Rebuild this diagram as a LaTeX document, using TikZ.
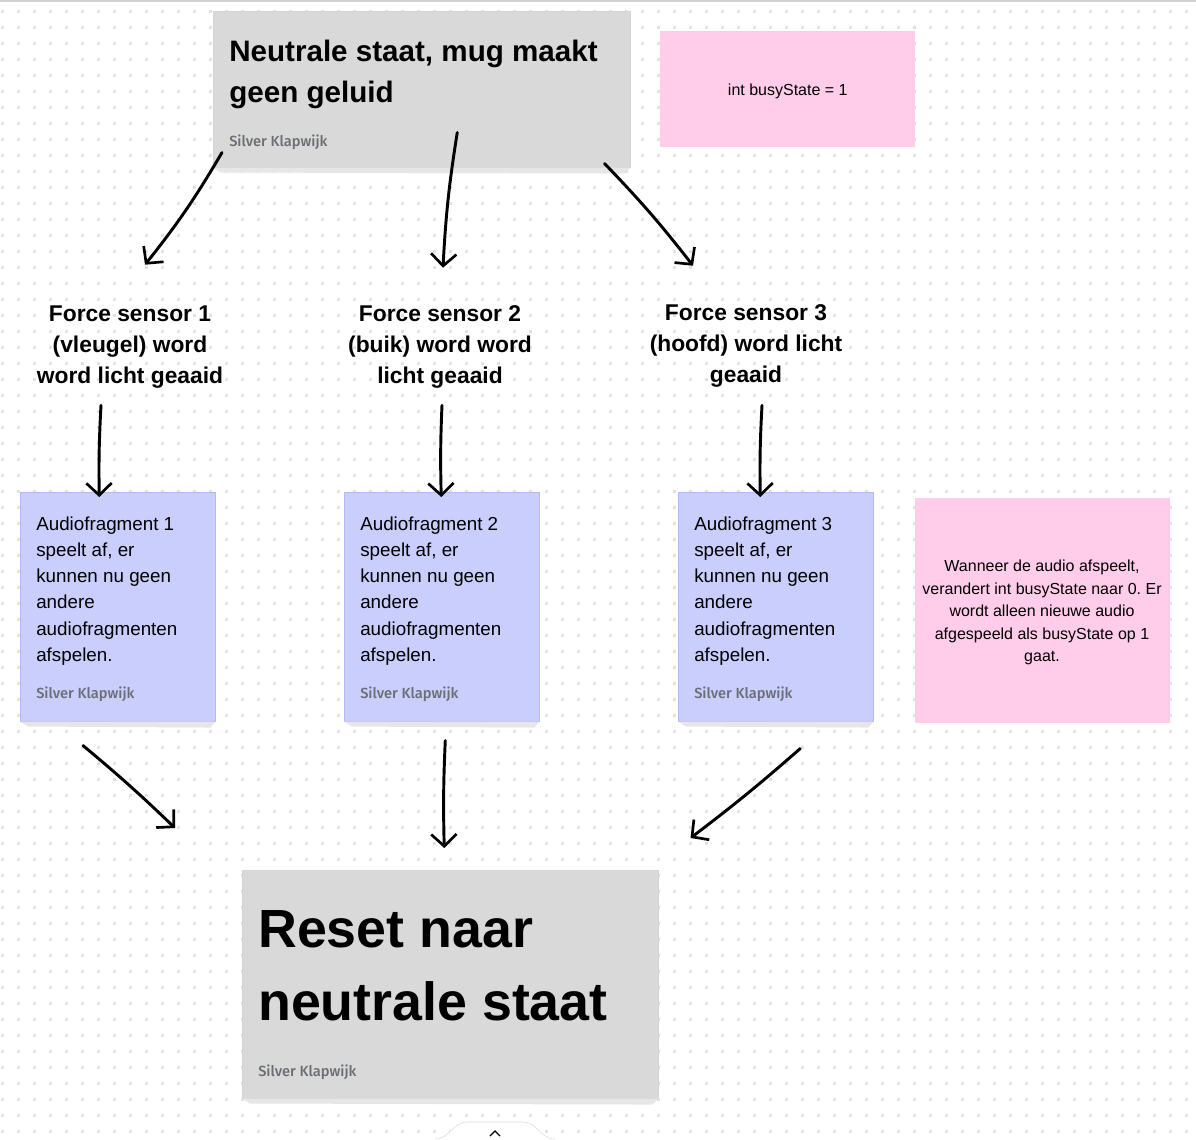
\documentclass[tikz,border=0pt]{standalone}
\usepackage{fontspec}
\setmainfont{Liberation Sans}
\newfontfamily\auteurfont{Fira Sans}[UprightFont={* Medium}]
\usetikzlibrary{arrows.meta,positioning}
\frenchspacing
\definecolor{kaartgrijs}{HTML}{D9D9D9}
\definecolor{kaartblauw}{HTML}{C9CEFD}
\definecolor{randblauw}{HTML}{B4BBF2}
\definecolor{kaartroze}{HTML}{FFCCE9}
\definecolor{stipgrijs}{HTML}{DFE1E6}
\definecolor{auteurgrijs}{HTML}{6B6E74}
\definecolor{schaduw}{HTML}{E6E6E6}

\begin{document}
\begin{tikzpicture}[
    x=0.75pt, y=-0.75pt,
    kaart/.style={rectangle, anchor=north west, inner sep=0pt},
    grijs/.style={kaart, fill=kaartgrijs, draw=black!17},
    blauw/.style={kaart, fill=kaartblauw, draw=randblauw},
    roze/.style={kaart, fill=kaartroze},
    kop/.style={anchor=west, align=left, inner sep=0pt, font=\bfseries\fontsize{22.2}{30.75}\selectfont},
    groot/.style={anchor=west, align=left, inner sep=0pt, font=\bfseries\fontsize{40.3}{55}\selectfont},
    sensor/.style={align=center, inner sep=0pt, minimum width=150pt, minimum height=72pt, font=\bfseries\fontsize{17.1}{23.2}\selectfont},
    tekst/.style={anchor=west, align=left, inner sep=0pt, font=\fontsize{14.1}{19.65}\selectfont},
    notitie/.style={align=center, inner sep=0pt, font=\fontsize{12}{16.9}\selectfont},
    auteur/.style={anchor=west, inner sep=0pt, text=auteurgrijs, font=\auteurfont\fontsize{11}{13}\selectfont},
    pijl/.style={-{Straight Barb[length=9pt, width=19pt, line width=2pt]}, line width=2.2pt, line cap=round, line join=round}
]
\useasboundingbox (0,0) rectangle (1196,1139);

% stippenraster
\foreach \i in {0,...,74}
  \foreach \j in {0,...,70}
    \fill[stipgrijs] (0.5+16*\i,9.5+16*\j) rectangle ++(3,3);
\draw[black!18, line width=1pt] (0,1) -- (1196,1);

% kaarten
\node[grijs, minimum width=312.75pt, minimum height=117pt] (neutraal) at (213,11) {};
\fill[schaduw] (neutraal.south west) -- (neutraal.south east) -- ++(-6,6) -- ([shift={(8,5)}]neutraal.south west) -- cycle;
\node[kop] (neutraaltxt) at (229,74) {Neutrale staat, mug maakt\\geen geluid};
\node[auteur] (auteur0) at (229,142) {Silver Klapwijk};

\node[roze, minimum width=191.25pt, minimum height=87pt] (busy) at (660,31) {};
\node[notitie] (busytxt) at ([yshift=-1.5pt]busy.center) {int busyState = 1};

% force sensors
\node[sensor] (fs1) at (130,347) {Force sensor 1\\(vleugel) word\\word licht geaaid};
\node[sensor] (fs2) at (440,347) {Force sensor 2\\(buik) word word\\licht geaaid};
\node[sensor] (fs3) at (746,346) {Force sensor 3\\(hoofd) word licht\\geaaid};

% audiofragmenten
\foreach \n/\x in {1/20, 2/344, 3/678} {
  \node[blauw, minimum width=146.25pt, minimum height=171.75pt] (af\n) at (\x,492) {};
  \fill[schaduw] (af\n.south west) -- (af\n.south east) -- ++(-5,6) -- ([shift={(8,5)}]af\n.south west) -- cycle;
  \node[tekst] (af\n txt) at (\x+16,591) {Audiofragment \n\\speelt af, er\\kunnen nu geen\\andere\\audiofragmenten\\afspelen.};
  \node[auteur] (auteur\n) at (\x+16,694) {Silver Klapwijk};
}

\node[roze, minimum width=191.25pt, minimum height=168.75pt] (uitleg) at (915,498) {};
\node[notitie] (uitlegtxt) at (1042,612.5) {Wanneer de audio afspeelt,\\verandert int busyState naar 0. Er\\wordt alleen nieuwe audio\\afgespeeld als busyState op 1\\gaat.};

% reset
\node[grijs, minimum width=312pt, minimum height=171pt] (reset) at (242,870) {};
\fill[schaduw] (reset.south west) -- (reset.south east) -- ++(-6,6) -- ([shift={(8,5)}]reset.south west) -- cycle;
\node[groot] (resettxt) at (258,966) {Reset naar\\neutrale staat};
\node[auteur] (auteur4) at (258,1072) {Silver Klapwijk};

% pijlen
\draw[pijl] ([shift={(9,-15)}]neutraal.south west) to[bend left=4] ([shift={(15,-34)}]fs1.north);
\draw[pijl] ([shift={(35.5,-35)}]neutraal.south) to[bend right=3] ([shift={(3,-31)}]fs2.north);
\draw[pijl] ([shift={(-26,-4)}]neutraal.south east) to[bend left=3] ([shift={(-53,-32)}]fs3.north);
\draw[pijl] ([shift={(-29,10)}]fs1.south) to[bend right=2] ([shift={(-18.5,5)}]af1.north);
\draw[pijl] ([shift={(2,10)}]fs2.south) to[bend right=2] ([shift={(-0.5,5)}]af2.north);
\draw[pijl] ([shift={(16,11)}]fs3.south) to[bend right=2] ([shift={(-15.5,5)}]af3.north);
\draw[pijl] ([shift={(63,24)}]af1.south west) to[bend left=2] ([shift={(-67,-42)}]reset.north west);
\draw[pijl] ([shift={(3.5,19)}]af2.south) to[bend right=2] ([shift={(-6,-22)}]reset.north);
\draw[pijl] ([shift={(24.5,27)}]af3.south) to[bend left=2] ([shift={(32,-32)}]reset.north east);

% tab onderaan
\draw[black!15, fill=white] (435,1139) .. controls (450,1139) and (452,1122) .. (468,1122) -- (522,1122) .. controls (538,1122) and (540,1139) .. (555,1139);
\draw[black, line width=1pt] (490,1136) -- (495,1131) -- (500,1136);
\end{tikzpicture}
\end{document}
